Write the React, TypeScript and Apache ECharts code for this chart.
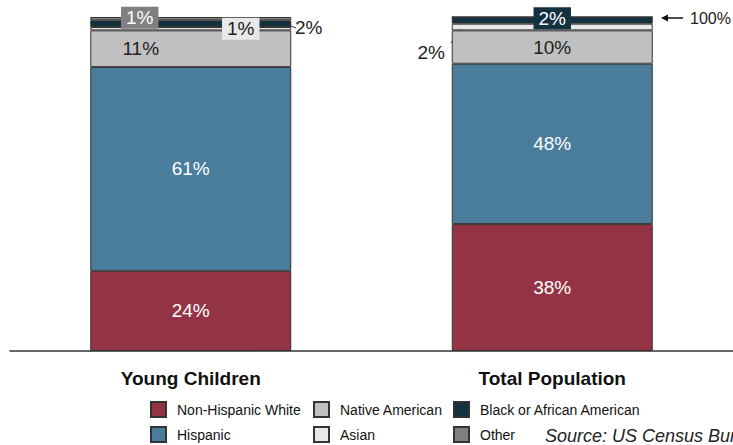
import React, { useEffect, useRef } from "react";
import * as echarts from "echarts";

const categories = ["Young Children", "Total Population"];
const seriesNames = ["Non-Hispanic White", "Hispanic", "Native American", "Asian", "Black or African American", "Other"];
const whiteValues = [24, 38];
const hispanicValues = [61, 48];
const nativeAmericanValues = [11, 10];
const asianValues = [1, 2];
const blackValues = [2, 2];
const otherValues = [1, 0];
const colors = ["#943343", "#4a7c9b", "#c0c0c0", "#e8e8e8", "#14313f", "#808080"];
const legendCols = [150, 150, 313, 313, 453, 453];
const legendRows = [401, 426, 401, 426, 401, 426];
const legendOrder = [0, 1, 2, 3, 4, 5];

const FONT = "Liberation Sans, Arial, sans-serif";

export default function App() {
  const ref = useRef<HTMLDivElement>(null);
  useEffect(() => {
    if (!ref.current) return;
    const chart = echarts.init(ref.current, null, { renderer: "svg" });
    const baseLabel = { show: true, position: "inside", fontSize: 19, fontFamily: FONT, formatter: "{c}%" };
    const border = { borderColor: "#333", borderWidth: 1 };
    const mk = (name: string, idx: number, data: any[], label: any) => ({
      name,
      type: "bar",
      stack: "total",
      barWidth: 201,
      itemStyle: { color: colors[idx], ...border },
      label: { ...baseLabel, ...label },
      data,
    });
    const option: any = {
      animation: false,
      grid: { left: 10, right: 0, top: 17, bottom: 94 },
      xAxis: {
        type: "category",
        data: categories,
        axisLine: { lineStyle: { color: "#333", width: 1.5 } },
        axisTick: { show: false },
        axisLabel: { fontSize: 19, fontWeight: "bold", fontFamily: FONT, color: "#111", margin: 18 },
      },
      yAxis: { type: "value", min: 0, max: 100, show: false },
      legend: legendOrder.map((i) => ({
        data: [seriesNames[i]],
        left: legendCols[i],
        top: legendRows[i],
        padding: 0,
        itemWidth: 15,
        itemHeight: 15,
        icon: "rect",
        selectedMode: false,
        textStyle: { fontSize: 14, fontFamily: FONT, color: "#111", padding: [0, 0, 0, 6] },
      })),
      series: [
        mk(seriesNames[0], 0, whiteValues, { color: "#fff" }),
        mk(seriesNames[1], 1, hispanicValues, { color: "#fff" }),
        mk(
          seriesNames[2],
          2,
          [{ value: nativeAmericanValues[0], label: { offset: [-50, 0] } }, nativeAmericanValues[1]],
          { color: "#222" }
        ),
        mk(
          seriesNames[3],
          3,
          [
            {
              value: asianValues[0],
              label: { offset: [50, 0], backgroundColor: "#e8e8e8", padding: [2, 5, 1, 5], color: "#222" },
            },
            { value: asianValues[1], label: { offset: [-121, 25], color: "#222" } },
          ],
          { color: "#222" }
        ),
        mk(
          seriesNames[4],
          4,
          [
            { value: blackValues[0], label: { offset: [118, 4], color: "#222" } },
            { value: blackValues[1], label: { backgroundColor: "#14313f", padding: [2, 5, 1, 5], color: "#fff", offset: [0, -2] } },
          ],
          { color: "#fff" }
        ),
        mk(
          seriesNames[5],
          5,
          [
            { value: otherValues[0], label: { offset: [-51, -1], backgroundColor: "#808080", padding: [2, 5, 1, 5], color: "#fff" } },
            { value: otherValues[1], label: { show: false } },
          ],
          { color: "#fff" }
        ),
      ],
      graphic: [
        { type: "line", shape: { x1: 286, y1: 24, x2: 296, y2: 28 }, style: { stroke: "#333", lineWidth: 1 } },
        { type: "line", shape: { x1: 463, y1: 27, x2: 451, y2: 43 }, style: { stroke: "#333", lineWidth: 1 } },
        { type: "line", shape: { x1: 666, y1: 18, x2: 683, y2: 18 }, style: { stroke: "#111", lineWidth: 1.5 } },
        { type: "polygon", shape: { points: [[661, 18], [668, 14.5], [668, 21.5]] }, style: { fill: "#111" } },
        {
          type: "text",
          left: 690,
          top: 10,
          style: { text: "100%", fontSize: 16, fontFamily: FONT, fill: "#222" },
        },
        {
          type: "text",
          left: 545,
          top: 427,
          style: { text: "Source: US Census Bureau", fontSize: 18, fontStyle: "italic", fontFamily: FONT, fill: "#222" },
        },
      ],
    };
    chart.setOption(option);
    return () => chart.dispose();
  }, []);
  return <div ref={ref} style={{ width: 733, height: 445, position: "absolute", left: 0, top: 0 }} />;
}
